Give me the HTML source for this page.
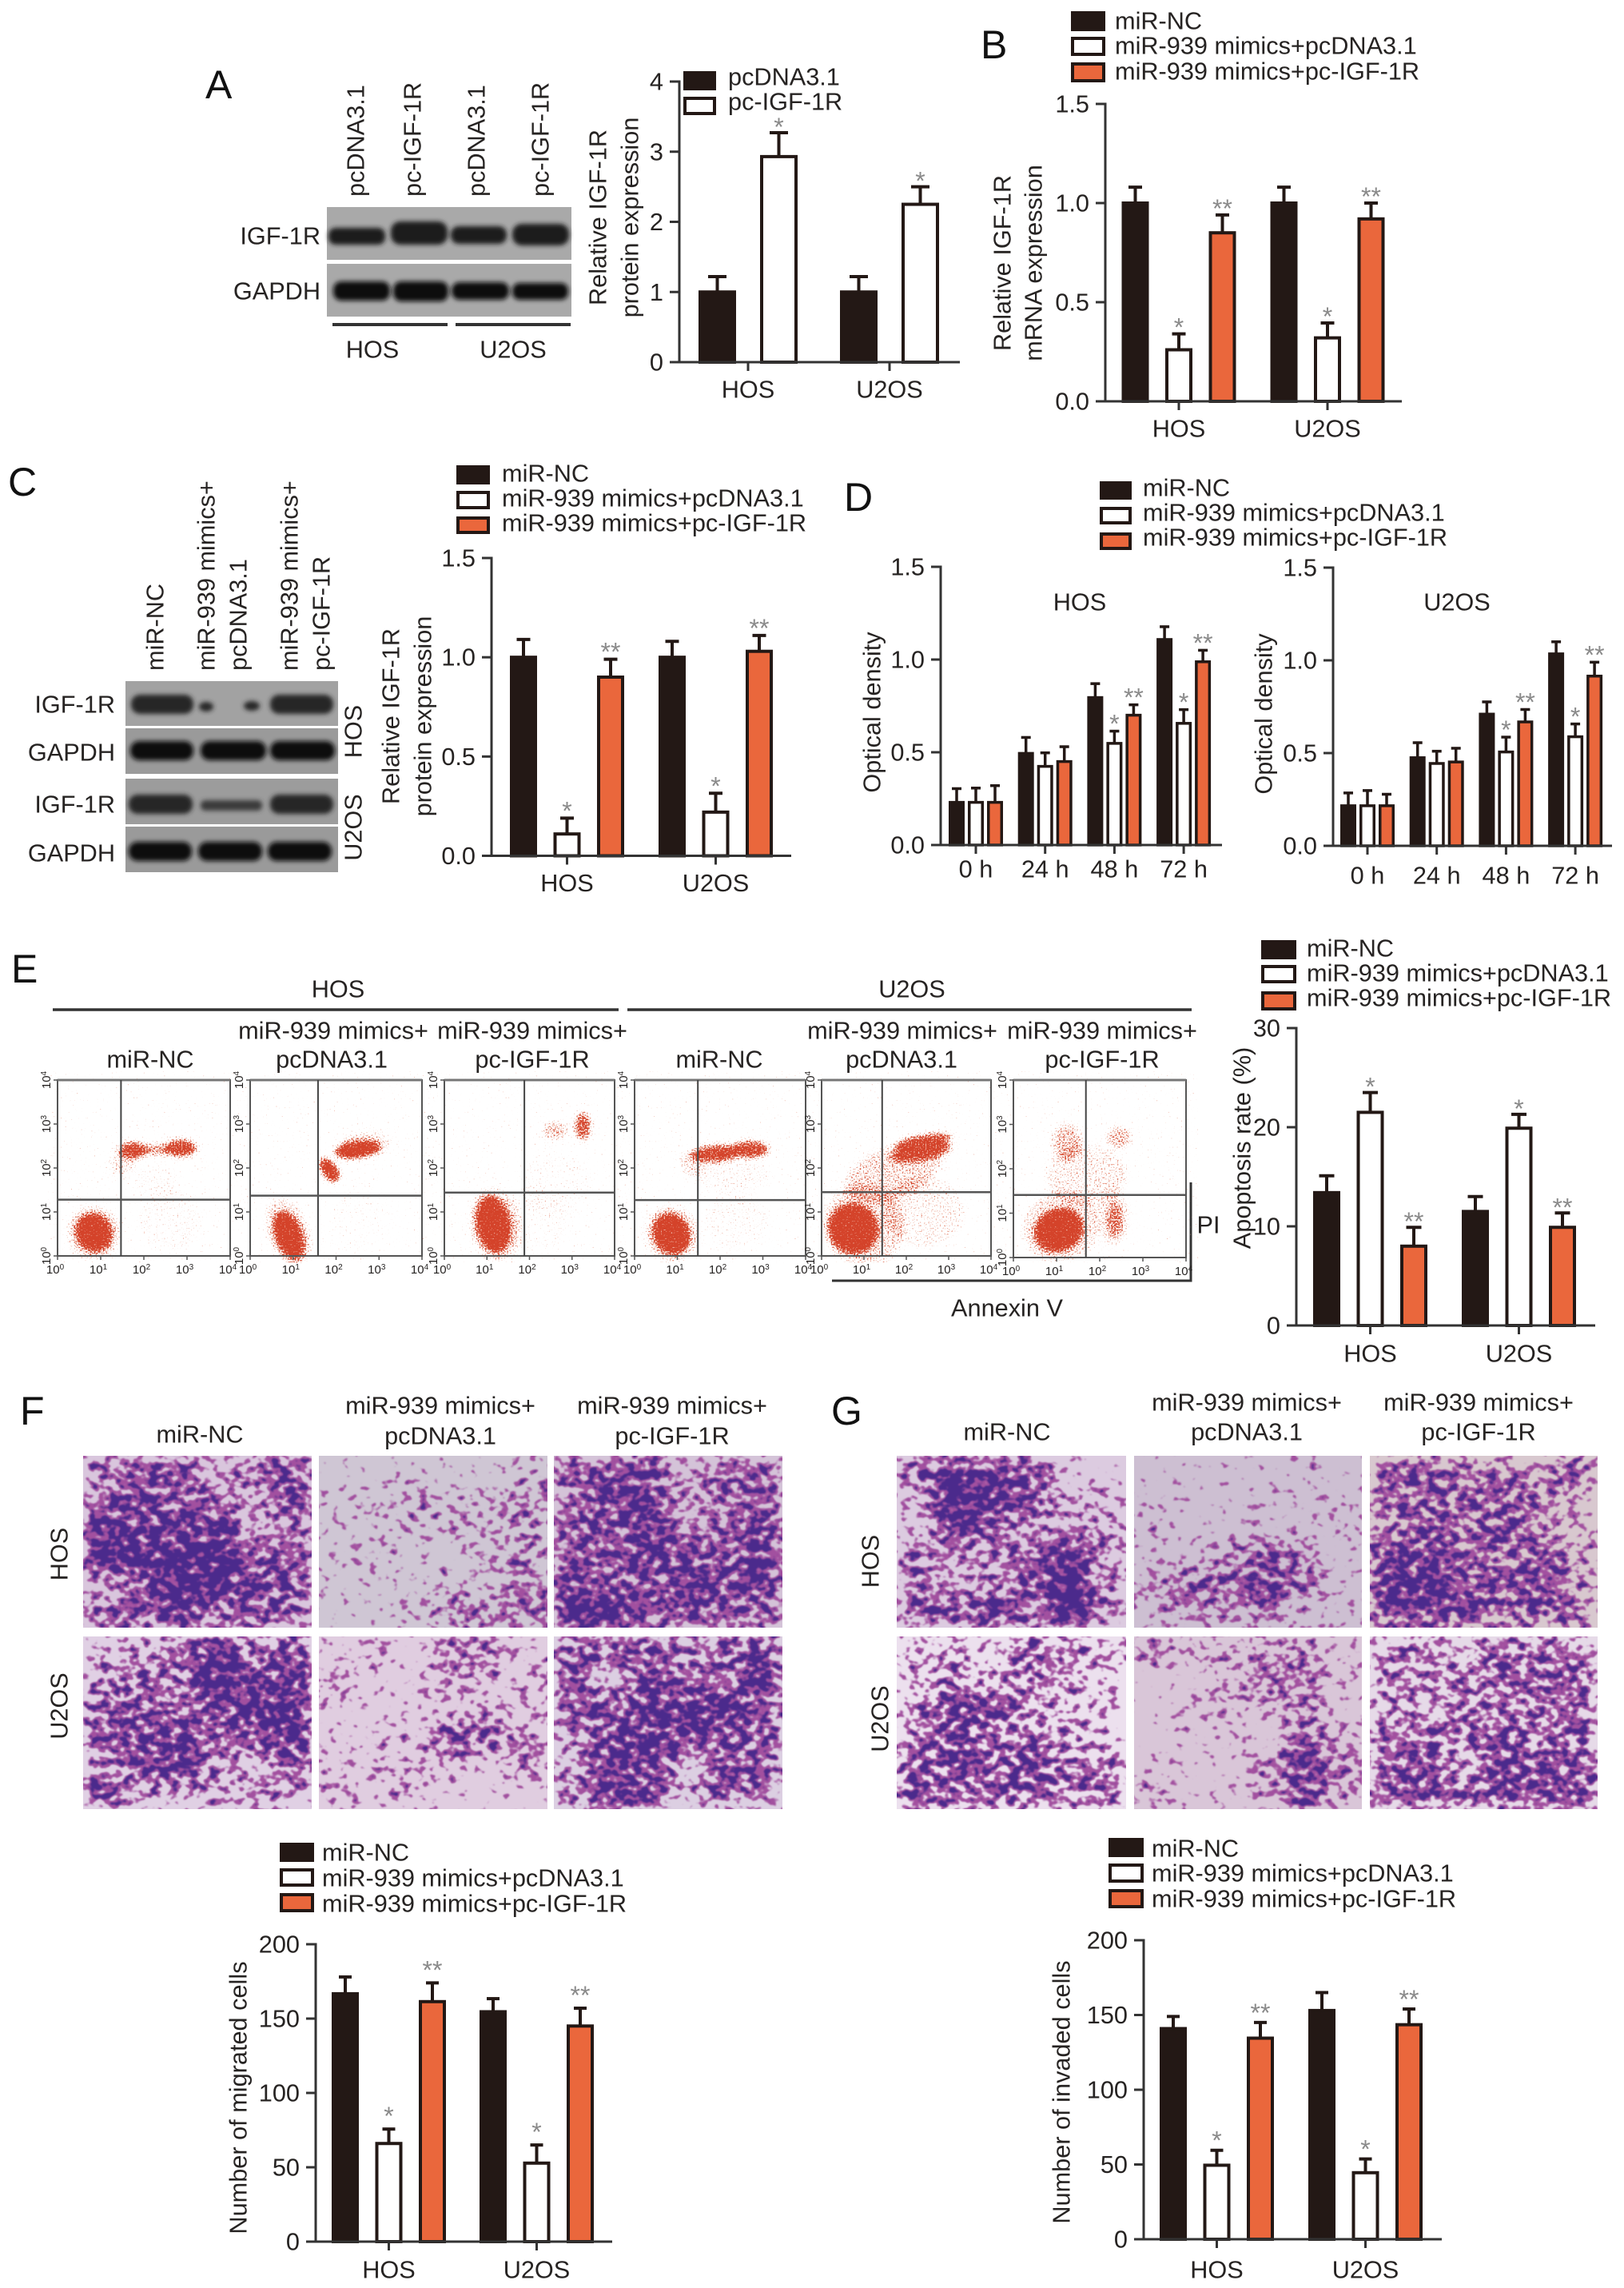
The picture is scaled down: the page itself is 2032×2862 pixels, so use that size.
<!DOCTYPE html>
<html lang="en">
<head>
<meta charset="utf-8">
<title>miR-939 / IGF-1R multi-panel figure</title>
<style>
html,body{margin:0;padding:0;background:#fff}
svg#fig{display:block}
text{font-family:"Liberation Sans",Arial,sans-serif;fill:#262322}
.t{font-size:30.7px;dominant-baseline:central}
.c{text-anchor:middle}
.r{text-anchor:end}
.L{font-size:50px;fill:#111}
</style>
</head>
<body>
<svg id="fig" xmlns="http://www.w3.org/2000/svg" width="2032" height="2862" viewBox="0 0 2032 2862">
<defs>
  <filter id="cells" filterUnits="userSpaceOnUse" x="100" y="1815" width="1905" height="455" color-interpolation-filters="sRGB">
    <feGaussianBlur in="SourceAlpha" stdDeviation="12" result="d"/>
    <feTurbulence type="fractalNoise" baseFrequency="0.08 0.1" numOctaves="2" seed="7" result="n"/>
    <feColorMatrix in="n" type="matrix" values="0 0 0 0 0  0 0 0 0 0  0 0 0 0 0  1 0 0 0 0" result="na"/>
    <feComposite in="d" in2="na" operator="arithmetic" k1="0" k2="0.55" k3="1" k4="0" result="sum"/>
    <feComponentTransfer in="sum" result="lightA"><feFuncA type="linear" slope="12" intercept="-8.7"/></feComponentTransfer>
    <feComponentTransfer in="sum" result="darkA"><feFuncA type="linear" slope="12" intercept="-10.6"/></feComponentTransfer>
    <feFlood flood-color="#a2509f"/><feComposite in2="lightA" operator="in" result="light"/>
    <feFlood flood-color="#4b2a8c"/><feComposite in2="darkA" operator="in" result="dark"/>
    <feMerge result="m"><feMergeNode in="light"/><feMergeNode in="dark"/></feMerge>
    <feGaussianBlur in="m" stdDeviation="0.9"/>
  </filter>
  <filter id="dots" filterUnits="userSpaceOnUse" x="60" y="1340" width="1440" height="240" color-interpolation-filters="sRGB">
    <feGaussianBlur in="SourceAlpha" stdDeviation="4" result="d"/>
    <feTurbulence type="fractalNoise" baseFrequency="0.55" numOctaves="1" seed="11" result="n"/>
    <feColorMatrix in="n" type="matrix" values="0 0 0 0 0  0 0 0 0 0  0 0 0 0 0  1 0 0 0 0" result="na"/>
    <feComposite in="d" in2="na" operator="arithmetic" k1="0" k2="0.6" k3="1" k4="0" result="sum"/>
    <feComponentTransfer in="sum" result="paleA"><feFuncA type="linear" slope="10" intercept="-7.2"/></feComponentTransfer>
    <feComponentTransfer in="sum" result="coreA"><feFuncA type="linear" slope="10" intercept="-8.5"/></feComponentTransfer>
    <feFlood flood-color="#eeb1a0"/><feComposite in2="paleA" operator="in" result="pale"/>
    <feFlood flood-color="#d4432a"/><feComposite in2="coreA" operator="in" result="core"/>
    <feMerge><feMergeNode in="pale"/><feMergeNode in="core"/></feMerge>
  </filter>
  <filter id="soft2"><feGaussianBlur stdDeviation="3"/></filter>
  <clipPath id="cellClip">
    <rect x="104" y="1821" width="286" height="215"/><rect x="399" y="1821" width="286" height="215"/><rect x="693" y="1821" width="286" height="215"/>
    <rect x="104" y="2047" width="286" height="216"/><rect x="399" y="2047" width="286" height="216"/><rect x="693" y="2047" width="286" height="216"/>
    <rect x="1122" y="1821" width="287" height="215"/><rect x="1419" y="1821" width="285" height="215"/><rect x="1714" y="1821" width="285" height="215"/>
    <rect x="1122" y="2047" width="287" height="216"/><rect x="1419" y="2047" width="285" height="216"/><rect x="1714" y="2047" width="285" height="216"/>
  </clipPath>
</defs>

<!-- panel letters -->
<text class="L" x="257" y="123">A</text>
<text class="L" x="1227" y="73">B</text>
<text class="L" x="10" y="620">C</text>
<text class="L" x="1056" y="639">D</text>
<text class="L" x="14" y="1229">E</text>
<text class="L" x="25" y="1782">F</text>
<text class="L" x="1040" y="1782">G</text>

<!-- Panel A western blot -->
<g>
  <rect x="409" y="259" width="306" height="66" fill="#a9a9a9"/>
  <rect x="409" y="330" width="306" height="66" fill="#a9a9a9"/>
  <g filter="url(#soft2)" fill="#1c1c1c">
    <rect x="411" y="285" width="71" height="21" rx="9"/><rect x="489" y="277" width="71" height="29" rx="12"/>
    <rect x="564" y="283" width="70" height="22" rx="10"/><rect x="641" y="280" width="71" height="27" rx="12"/>
    <g fill="#0c0c0c"><rect x="417" y="352" width="71" height="24" rx="10"/><rect x="492" y="352" width="69" height="25" rx="10"/>
    <rect x="565" y="353" width="72" height="22" rx="10"/><rect x="641" y="354" width="70" height="21" rx="9"/></g>
  </g>
  <text class="t r" x="401" y="295">IGF-1R</text>
  <text class="t r" x="401" y="364">GAPDH</text>
  <text class="t" x="445" y="246" transform="rotate(-90 445 246)">pcDNA3.1</text>
  <text class="t" x="516" y="246" transform="rotate(-90 516 246)">pc-IGF-1R</text>
  <text class="t" x="596" y="246" transform="rotate(-90 596 246)">pcDNA3.1</text>
  <text class="t" x="676" y="246" transform="rotate(-90 676 246)">pc-IGF-1R</text>
  <line x1="416" y1="406" x2="560" y2="406" stroke="#333" stroke-width="4"/>
  <line x1="570" y1="406" x2="714" y2="406" stroke="#333" stroke-width="4"/>
  <text class="t c" x="466" y="437">HOS</text>
  <text class="t c" x="642" y="437">U2OS</text>
</g>

<!-- Panel A chart titles / legend -->
<text class="t c" x="748" y="272" transform="rotate(-90 748 272)">Relative IGF-1R</text>
<text class="t c" x="788" y="272" transform="rotate(-90 788 272)">protein expression</text>
<g>
  <rect x="857" y="91" width="37" height="20" fill="#231815" stroke="#231815" stroke-width="4"/>
  <rect x="857" y="123" width="37" height="19" fill="#fff" stroke="#231815" stroke-width="4"/>
  <text class="t" x="911" y="96">pcDNA3.1</text>
  <text class="t" x="911" y="127">pc-IGF-1R</text>
</g>

<!-- Panel B -->
<text class="t c" x="1254" y="329" transform="rotate(-90 1254 329)">Relative IGF-1R</text>
<text class="t c" x="1293" y="329" transform="rotate(-90 1293 329)">mRNA expression</text>
<g>
  <rect x="1342" y="16" width="39" height="21" fill="#231815" stroke="#231815" stroke-width="4"/>
  <rect x="1342" y="48" width="39" height="20" fill="#fff" stroke="#231815" stroke-width="4"/>
  <rect x="1342" y="80" width="39" height="21" fill="#ea673c" stroke="#231815" stroke-width="4"/>
  <text class="t" x="1395" y="26">miR-NC</text>
  <text class="t" x="1395" y="57">miR-939 mimics+pcDNA3.1</text>
  <text class="t" x="1395" y="89">miR-939 mimics+pc-IGF-1R</text>
</g>

<!-- Panel C western blot -->
<g>
  <rect x="157" y="852" width="266" height="56" fill="#a2a2a2"/>
  <rect x="157" y="911" width="266" height="57" fill="#9a9a9a"/>
  <rect x="157" y="974" width="266" height="57" fill="#9c9c9c"/>
  <rect x="157" y="1034" width="266" height="57" fill="#9a9a9a"/>
  <g filter="url(#soft2)" fill="#262626">
    <rect x="164" y="869" width="78" height="24" rx="11"/><rect x="338" y="869" width="79" height="24" rx="11"/>
    <ellipse cx="258" cy="884" rx="9" ry="6"/><ellipse cx="315" cy="883" rx="10" ry="6"/>
    <rect x="161" y="994" width="80" height="24" rx="11"/><rect x="251" y="1001" width="77" height="13" rx="6" fill="#3a3a3a"/><rect x="338" y="994" width="79" height="24" rx="11"/>
    <g fill="#101010">
      <rect x="163" y="927" width="79" height="24" rx="11"/><rect x="251" y="927" width="82" height="24" rx="11"/><rect x="338" y="927" width="81" height="24" rx="11"/>
      <rect x="161" y="1053" width="79" height="24" rx="11"/><rect x="248" y="1053" width="80" height="24" rx="11"/><rect x="335" y="1053" width="80" height="24" rx="11"/>
    </g>
  </g>
  <text class="t r" x="144" y="881">IGF-1R</text>
  <text class="t r" x="144" y="941">GAPDH</text>
  <text class="t r" x="144" y="1006">IGF-1R</text>
  <text class="t r" x="144" y="1067">GAPDH</text>
  <text class="t c" x="442" y="915" transform="rotate(-90 442 915)">HOS</text>
  <text class="t c" x="442" y="1035" transform="rotate(-90 442 1035)">U2OS</text>
  <text class="t" x="194" y="839" transform="rotate(-90 194 839)">miR-NC</text>
  <text class="t" x="258" y="839" transform="rotate(-90 258 839)">miR-939 mimics+</text>
  <text class="t" x="298" y="839" transform="rotate(-90 298 839)">pcDNA3.1</text>
  <text class="t" x="362" y="839" transform="rotate(-90 362 839)">miR-939 mimics+</text>
  <text class="t" x="402" y="839" transform="rotate(-90 402 839)">pc-IGF-1R</text>
</g>
<text class="t c" x="489" y="896" transform="rotate(-90 489 896)">Relative IGF-1R</text>
<text class="t c" x="529" y="896" transform="rotate(-90 529 896)">protein expression</text>
<g>
  <rect x="573" y="584" width="38" height="20" fill="#231815" stroke="#231815" stroke-width="4"/>
  <rect x="573" y="616" width="38" height="19" fill="#fff" stroke="#231815" stroke-width="4"/>
  <rect x="573" y="648" width="38" height="18" fill="#ea673c" stroke="#231815" stroke-width="4"/>
  <text class="t" x="628" y="592">miR-NC</text>
  <text class="t" x="628" y="623">miR-939 mimics+pcDNA3.1</text>
  <text class="t" x="628" y="654">miR-939 mimics+pc-IGF-1R</text>
</g>

<!-- Panel D -->
<g>
  <rect x="1378" y="604" width="36" height="19" fill="#231815" stroke="#231815" stroke-width="4"/>
  <rect x="1378" y="636" width="36" height="18" fill="#fff" stroke="#231815" stroke-width="4"/>
  <rect x="1378" y="668" width="36" height="18" fill="#ea673c" stroke="#231815" stroke-width="4"/>
  <text class="t" x="1430" y="610">miR-NC</text>
  <text class="t" x="1430" y="641">miR-939 mimics+pcDNA3.1</text>
  <text class="t" x="1430" y="672">miR-939 mimics+pc-IGF-1R</text>
</g>
<text class="t c" x="1351" y="753">HOS</text>
<text class="t c" x="1823" y="753">U2OS</text>
<text class="t c" x="1091" y="891" transform="rotate(-90 1091 891)">Optical density</text>
<text class="t c" x="1581" y="893" transform="rotate(-90 1581 893)">Optical density</text>

<!-- Panel E labels -->
<g>
  <text class="t c" x="423" y="1237">HOS</text>
  <text class="t c" x="1141" y="1237">U2OS</text>
  <line x1="66" y1="1263" x2="774" y2="1263" stroke="#333" stroke-width="3.5"/>
  <line x1="785" y1="1263" x2="1491" y2="1263" stroke="#333" stroke-width="3.5"/>
  <text class="t c" x="188" y="1325">miR-NC</text>
  <text class="t c" x="417" y="1289">miR-939 mimics+</text>
  <text class="t c" x="415" y="1325">pcDNA3.1</text>
  <text class="t c" x="666" y="1289">miR-939 mimics+</text>
  <text class="t c" x="666" y="1325">pc-IGF-1R</text>
  <text class="t c" x="900" y="1325">miR-NC</text>
  <text class="t c" x="1129" y="1289">miR-939 mimics+</text>
  <text class="t c" x="1128" y="1325">pcDNA3.1</text>
  <text class="t c" x="1379" y="1289">miR-939 mimics+</text>
  <text class="t c" x="1379" y="1325">pc-IGF-1R</text>
  <polyline points="1490,1479 1490,1602 1041,1602" fill="none" stroke="#333" stroke-width="3"/>
  <text class="t c" x="1512" y="1532">PI</text>
  <text class="t c" x="1260" y="1636">Annexin V</text>
</g>
<g>
  <rect x="1580" y="1178" width="40" height="20" fill="#231815" stroke="#231815" stroke-width="4"/>
  <rect x="1580" y="1209" width="40" height="19" fill="#fff" stroke="#231815" stroke-width="4"/>
  <rect x="1580" y="1242" width="40" height="20" fill="#ea673c" stroke="#231815" stroke-width="4"/>
  <text class="t" x="1635" y="1186">miR-NC</text>
  <text class="t" x="1635" y="1217">miR-939 mimics+pcDNA3.1</text>
  <text class="t" x="1635" y="1248">miR-939 mimics+pc-IGF-1R</text>
</g>
<text class="t c" x="1554" y="1436" transform="rotate(-90 1554 1436)">Apoptosis rate (%)</text>

<!-- Panel F / G image labels -->
<g>
  <text class="t c" x="250" y="1794">miR-NC</text>
  <text class="t c" x="551" y="1758">miR-939 mimics+</text>
  <text class="t c" x="551" y="1796">pcDNA3.1</text>
  <text class="t c" x="841" y="1758">miR-939 mimics+</text>
  <text class="t c" x="841" y="1796">pc-IGF-1R</text>
  <text class="t c" x="74" y="1944" transform="rotate(-90 74 1944)">HOS</text>
  <text class="t c" x="74" y="2134" transform="rotate(-90 74 2134)">U2OS</text>
</g>
<g>
  <text class="t c" x="1260" y="1791">miR-NC</text>
  <text class="t c" x="1560" y="1754">miR-939 mimics+</text>
  <text class="t c" x="1560" y="1791">pcDNA3.1</text>
  <text class="t c" x="1850" y="1754">miR-939 mimics+</text>
  <text class="t c" x="1850" y="1791">pc-IGF-1R</text>
  <text class="t c" x="1089" y="1953" transform="rotate(-90 1089 1953)">HOS</text>
  <text class="t c" x="1101" y="2150" transform="rotate(-90 1101 2150)">U2OS</text>
</g>

<!-- Panel F chart text -->
<g>
  <rect x="352" y="2307" width="39" height="20" fill="#231815" stroke="#231815" stroke-width="4"/>
  <rect x="352" y="2339" width="39" height="19" fill="#fff" stroke="#231815" stroke-width="4"/>
  <rect x="352" y="2370" width="39" height="20" fill="#ea673c" stroke="#231815" stroke-width="4"/>
  <text class="t" x="403" y="2317">miR-NC</text>
  <text class="t" x="403" y="2349">miR-939 mimics+pcDNA3.1</text>
  <text class="t" x="403" y="2381">miR-939 mimics+pc-IGF-1R</text>
</g>
<text class="t c" x="298" y="2624" transform="rotate(-90 298 2624)">Number of migrated cells</text>

<!-- Panel G chart text -->
<g>
  <rect x="1389" y="2301" width="40" height="20" fill="#231815" stroke="#231815" stroke-width="4"/>
  <rect x="1389" y="2333" width="40" height="20" fill="#fff" stroke="#231815" stroke-width="4"/>
  <rect x="1389" y="2365" width="40" height="20" fill="#ea673c" stroke="#231815" stroke-width="4"/>
  <text class="t" x="1441" y="2312">miR-NC</text>
  <text class="t" x="1441" y="2343">miR-939 mimics+pcDNA3.1</text>
  <text class="t" x="1441" y="2375">miR-939 mimics+pc-IGF-1R</text>
</g>
<text class="t c" x="1328" y="2617" transform="rotate(-90 1328 2617)">Number of invaded cells</text>

<g id="cellBase"></g>
<g clip-path="url(#cellClip)"><g id="cellDensity" filter="url(#cells)"></g></g>
<g id="facsDots" filter="url(#dots)"></g>
<g id="facsAxes"></g>
<g id="charts"></g>
</svg>

<script>
/* ===== Chart data ===== */
const groupsCell = ['HOS', 'U2OS'];
const groupsTime = ['0 h', '24 h', '48 h', '72 h'];

/* Panel A */
const panelA_yTicks = ['0', '1', '2', '3', '4'];
const panelA_pcDNA = [1.0, 1.0];
const panelA_pcDNA_err = [0.22, 0.22];
const panelA_pcIGF = [2.93, 2.25];
const panelA_pcIGF_err = [0.34, 0.25];
const panelA_pcIGF_sig = ['*', '*'];

/* Panel B */
const panelB_yTicks = ['0.0', '0.5', '1.0', '1.5'];
const panelB_nc = [1.0, 1.0];
const panelB_nc_err = [0.08, 0.08];
const panelB_mimics = [0.26, 0.32];
const panelB_mimics_err = [0.08, 0.075];
const panelB_mimics_sig = ['*', '*'];
const panelB_rescue = [0.85, 0.92];
const panelB_rescue_err = [0.09, 0.08];
const panelB_rescue_sig = ['**', '**'];

/* Panel C */
const panelC_yTicks = ['0.0', '0.5', '1.0', '1.5'];
const panelC_nc = [1.0, 1.0];
const panelC_nc_err = [0.09, 0.08];
const panelC_mimics = [0.11, 0.22];
const panelC_mimics_err = [0.08, 0.095];
const panelC_mimics_sig = ['*', '*'];
const panelC_rescue = [0.90, 1.03];
const panelC_rescue_err = [0.09, 0.08];
const panelC_rescue_sig = ['**', '**'];

/* Panel D HOS */
const panelD_yTicks = ['0.0', '0.5', '1.0', '1.5'];
const panelD_hos_nc = [0.23, 0.494, 0.795, 1.108];
const panelD_hos_nc_err = [0.074, 0.086, 0.075, 0.069];
const panelD_hos_mimics = [0.23, 0.424, 0.548, 0.656];
const panelD_hos_mimics_err = [0.077, 0.073, 0.066, 0.074];
const panelD_hos_mimics_sig = ['', '', '*', '*'];
const panelD_hos_rescue = [0.23, 0.45, 0.70, 0.988];
const panelD_hos_rescue_err = [0.09, 0.08, 0.056, 0.062];
const panelD_hos_rescue_sig = ['', '', '**', '**'];

/* Panel D U2OS */
const panelD_u2os_nc = [0.216, 0.475, 0.71, 1.035];
const panelD_u2os_nc_err = [0.069, 0.081, 0.066, 0.065];
const panelD_u2os_mimics = [0.216, 0.444, 0.506, 0.588];
const panelD_u2os_mimics_err = [0.082, 0.066, 0.08, 0.069];
const panelD_u2os_mimics_sig = ['', '', '*', '*'];
const panelD_u2os_rescue = [0.216, 0.452, 0.668, 0.915];
const panelD_u2os_rescue_err = [0.062, 0.074, 0.067, 0.075];
const panelD_u2os_rescue_sig = ['', '', '**', '**'];

/* Panel E */
const panelE_yTicks = ['0', '10', '20', '30'];
const panelE_nc = [13.4, 11.5];
const panelE_nc_err = [1.7, 1.5];
const panelE_mimics = [21.5, 19.9];
const panelE_mimics_err = [2.0, 1.4];
const panelE_mimics_sig = ['*', '*'];
const panelE_rescue = [8.0, 9.9];
const panelE_rescue_err = [1.9, 1.45];
const panelE_rescue_sig = ['**', '**'];

/* Panel F */
const panelF_yTicks = ['0', '50', '100', '150', '200'];
const panelF_nc = [166.7, 154.6];
const panelF_nc_err = [11.3, 8.8];
const panelF_mimics = [66, 52.8];
const panelF_mimics_err = [9.7, 12.2];
const panelF_mimics_sig = ['*', '*'];
const panelF_rescue = [161.4, 145];
const panelF_rescue_err = [12.6, 12];
const panelF_rescue_sig = ['**', '**'];

/* Panel G */
const panelG_yTicks = ['0', '50', '100', '150', '200'];
const panelG_nc = [140.9, 153];
const panelG_nc_err = [8.1, 12];
const panelG_mimics = [49.5, 44.5];
const panelG_mimics_err = [10, 9.2];
const panelG_mimics_sig = ['*', '*'];
const panelG_rescue = [134.5, 143.5];
const panelG_rescue_err = [10.5, 10.5];
const panelG_rescue_sig = ['**', '**'];

/* Flow-cytometry event clusters: [log10 AnnexinV, log10 PI, spread x, spread y, tilt deg, density] */
const facsExponents = ['0', '1', '2', '3', '4'];
const facs_hos_nc = [[0.84,0.53,0.42,0.45,-30,1],[0.84,0.53,0.62,0.62,-30,0.3],[1.75,2.4,0.35,0.2,0,0.85],[2.3,2.42,0.3,0.15,0,0.55],[2.85,2.45,0.38,0.2,0,0.9],[1.5,2.1,0.3,0.3,0,0.25],[2.6,0.8,0.7,0.7,0,0.1],[2.3,1.7,0.55,0.35,0,0.1]];
const facs_hos_mimics = [[0.9,0.46,0.32,0.58,-20,1],[0.9,0.55,0.48,0.8,-20,0.3],[2.5,2.42,0.55,0.2,-8,1],[1.85,1.95,0.18,0.32,-35,1],[2.7,2.55,0.6,0.3,0,0.25],[2.6,0.9,0.7,0.7,0,0.05]];
const facs_hos_rescue = [[1.15,0.72,0.4,0.65,-10,1],[1.2,0.7,0.6,0.85,-10,0.32],[3.25,2.95,0.2,0.32,0,0.75],[2.6,2.85,0.3,0.2,0,0.42],[2.6,1.6,0.85,0.7,0,0.08],[2.1,0.8,0.8,0.7,0,0.08]];
const facs_u2os_nc = [[0.86,0.5,0.42,0.48,-25,1],[0.86,0.5,0.62,0.65,-25,0.32],[1.9,2.33,0.6,0.2,-4,0.85],[2.7,2.42,0.45,0.2,0,0.85],[1.35,2.1,0.3,0.3,0,0.3],[2.3,1.8,0.9,0.4,0,0.12],[2.4,0.8,0.75,0.6,0,0.1]];
const facs_u2os_mimics = [[0.75,0.62,0.58,0.58,-35,1],[1.0,0.7,0.95,0.95,-35,0.32],[2.35,2.35,0.75,0.18,-10,0.85],[2.4,2.6,0.7,0.16,-10,0.85],[1.7,1.9,1.2,0.6,-20,0.34],[2.4,1.0,0.95,0.8,0,0.2]];
const facs_u2os_rescue = [[1.05,0.62,0.58,0.48,-25,1],[1.1,0.7,0.9,0.8,-25,0.3],[1.25,2.6,0.35,0.42,0,0.42],[2.45,2.7,0.3,0.25,0,0.42],[1.7,1.85,0.95,0.7,0,0.25],[2.35,0.85,0.2,0.42,0,0.55],[2.3,0.9,0.4,0.65,0,0.22]];

/* Microscopy staining density (6x6 grid, 0-9) */
const stainF = [
 ['566367','576537','877835','988966','369876','668566'],
 ['112113','133334','213334','231134','111325','113555'],
 ['677366','577456','668457','667768','766777','996766'],
 ['335857','465977','665688','677668','468436','743444'],
 ['131552','412423','112232','222764','233315','323111'],
 ['666567','637558','667886','478766','477366','587365']
];
const stainG = [
 ['687721','398633','376444','544684','544694','668595'],
 ['011020','211221','211213','214641','466761','343512'],
 ['665546','565653','565743','776564','886674','777565'],
 ['433644','353542','477433','575542','666755','766655'],
 ['533442','003552','033341','022163','210575','412373'],
 ['453655','545566','435555','565656','663766','676777']
];

/* ===== Drawing helpers ===== */
const NS = 'http://www.w3.org/2000/svg';
const INK = '#231815';
const AXIS = '#333333';
const ORANGE = '#ea673c';
function mk(tag, attrs, parent) {
  const el = document.createElementNS(NS, tag);
  for (const k in attrs) el.setAttribute(k, attrs[k]);
  parent.appendChild(el);
  return el;
}

/* ===== Bar charts ===== */
function drawBarChart(cfg) {
  const g = mk('g', {}, document.getElementById('charts'));
  
  
  const yMax = parseFloat(cfg.yTicks[cfg.yTicks.length - 1]);
  const y = v => cfg.y0 - (v / yMax) * (cfg.y0 - cfg.yTop);
  const x = i => cfg.firstTick + i * cfg.tickStep;
  const sw = cfg.stroke || 4;
  const n = cfg.series.length;

  cfg.series.forEach((s, si) => {
    s.values.forEach((v, i) => {
      const cx = x(i) + (si - (n - 1) / 2) * cfg.barStep;
      const top = y(v + s.err[i]);
      const stem = mk('line', {x1: cx, x2: cx, y1: y(v), y2: top, stroke: INK, 'stroke-width': sw}, g);
      
      
      const cap = mk('line', {x1: cx - cfg.capW / 2, x2: cx + cfg.capW / 2, y1: top, y2: top, stroke: INK, 'stroke-width': sw}, g);
      
      
      const bar = mk('rect', {x: cx - cfg.barW / 2 + sw / 2, y: y(v), width: cfg.barW - sw, height: Math.max(0, cfg.y0 - y(v)), fill: s.fill, stroke: INK, 'stroke-width': sw}, g);
      
      
      if (s.sig && s.sig[i]) {
        const star = mk('text', {x: cx, y: top - cfg.starOffset + 18, 'text-anchor': 'middle', 'font-size': 32, style: 'fill:#8a8a8a'}, g);
        star.textContent = s.sig[i];
        
        
      }
    });
  });

  const yAxis = mk('line', {x1: cfg.axisX, x2: cfg.axisX, y1: cfg.yTop - 1.5, y2: cfg.y0, stroke: AXIS, 'stroke-width': 3}, g);
  
  
  const xAxis = mk('line', {x1: cfg.axisX - 12, x2: cfg.xEnd, y1: cfg.y0, y2: cfg.y0, stroke: AXIS, 'stroke-width': 3}, g);
  
  

  cfg.yTicks.forEach(lbl => {
    const ty = y(parseFloat(lbl));
    const tick = mk('line', {x1: cfg.axisX - 12, x2: cfg.axisX, y1: ty, y2: ty, stroke: AXIS, 'stroke-width': 3}, g);
    
    
    const t = mk('text', {class: 't r', x: cfg.axisX - 20, y: ty}, g);
    t.textContent = lbl;
    
    
  });
  cfg.groups.forEach((lbl, i) => {
    const tick = mk('line', {x1: x(i), x2: x(i), y1: cfg.y0, y2: cfg.y0 + 11, stroke: AXIS, 'stroke-width': 3}, g);
    
    
    const t = mk('text', {class: 't c', x: x(i) + (cfg.labelShift || 0), y: cfg.y0 + cfg.xLabelDy}, g);
    t.textContent = lbl;
    
    
  });
}

function threeSeries(nc, ncErr, mim, mimErr, mimSig, res, resErr, resSig) {
  return [
    {key: 'mir-nc', fill: INK, values: nc, err: ncErr},
    {key: 'mimics-pcdna', fill: '#ffffff', values: mim, err: mimErr, sig: mimSig},
    {key: 'mimics-pc-igf1r', fill: ORANGE, values: res, err: resErr, sig: resSig}
  ];
}

drawBarChart({name: 'panel-a', groups: groupsCell, yTicks: panelA_yTicks, axisX: 850, xEnd: 1201, y0: 453, yTop: 102,
  firstTick: 936, tickStep: 177, barStep: 77, barW: 47, capW: 23, starOffset: 14, xLabelDy: 34,
  series: [
    {key: 'pcdna', fill: INK, values: panelA_pcDNA, err: panelA_pcDNA_err},
    {key: 'pc-igf1r', fill: '#ffffff', values: panelA_pcIGF, err: panelA_pcIGF_err, sig: panelA_pcIGF_sig}
  ]});
drawBarChart({name: 'panel-b', groups: groupsCell, yTicks: panelB_yTicks, axisX: 1383, xEnd: 1754, y0: 502, yTop: 130,
  firstTick: 1475, tickStep: 186, barStep: 54.5, barW: 34, capW: 17, starOffset: 15, xLabelDy: 34,
  series: threeSeries(panelB_nc, panelB_nc_err, panelB_mimics, panelB_mimics_err, panelB_mimics_sig, panelB_rescue, panelB_rescue_err, panelB_rescue_sig)});
drawBarChart({name: 'panel-c', groups: groupsCell, yTicks: panelC_yTicks, axisX: 615, xEnd: 990, y0: 1070.5, yTop: 698,
  firstTick: 709.5, tickStep: 186, barStep: 54.5, barW: 34, capW: 17, starOffset: 16, xLabelDy: 34,
  series: threeSeries(panelC_nc, panelC_nc_err, panelC_mimics, panelC_mimics_err, panelC_mimics_sig, panelC_rescue, panelC_rescue_err, panelC_rescue_sig)});
drawBarChart({name: 'panel-d-hos', groups: groupsTime, yTicks: panelD_yTicks, axisX: 1177, xEnd: 1529, y0: 1057, yTop: 709,
  firstTick: 1221, tickStep: 86.7, barStep: 24, barW: 20, capW: 12, stroke: 3.5, starOffset: 16, xLabelDy: 30,
  series: threeSeries(panelD_hos_nc, panelD_hos_nc_err, panelD_hos_mimics, panelD_hos_mimics_err, panelD_hos_mimics_sig, panelD_hos_rescue, panelD_hos_rescue_err, panelD_hos_rescue_sig)});
drawBarChart({name: 'panel-d-u2os', groups: groupsTime, yTicks: panelD_yTicks, axisX: 1668, xEnd: 2017, y0: 1058, yTop: 710,
  firstTick: 1711, tickStep: 86.7, barStep: 24, barW: 20, capW: 12, stroke: 3.5, starOffset: 16, xLabelDy: 37,
  series: threeSeries(panelD_u2os_nc, panelD_u2os_nc_err, panelD_u2os_mimics, panelD_u2os_mimics_err, panelD_u2os_mimics_sig, panelD_u2os_rescue, panelD_u2os_rescue_err, panelD_u2os_rescue_sig)});
drawBarChart({name: 'panel-e', groups: groupsCell, yTicks: panelE_yTicks, axisX: 1622, xEnd: 1996, y0: 1658, yTop: 1286,
  firstTick: 1714.5, tickStep: 186, barStep: 54.5, barW: 34, capW: 19, starOffset: 14, xLabelDy: 35,
  series: threeSeries(panelE_nc, panelE_nc_err, panelE_mimics, panelE_mimics_err, panelE_mimics_sig, panelE_rescue, panelE_rescue_err, panelE_rescue_sig)});
drawBarChart({name: 'panel-f', groups: groupsCell, yTicks: panelF_yTicks, axisX: 395, xEnd: 766, y0: 2804, yTop: 2432,
  firstTick: 486.5, tickStep: 185, barStep: 54.5, barW: 34, capW: 16, starOffset: 23, xLabelDy: 35,
  series: threeSeries(panelF_nc, panelF_nc_err, panelF_mimics, panelF_mimics_err, panelF_mimics_sig, panelF_rescue, panelF_rescue_err, panelF_rescue_sig)});
drawBarChart({name: 'panel-g', groups: groupsCell, yTicks: panelG_yTicks, axisX: 1431, xEnd: 1804, y0: 2801, yTop: 2427,
  firstTick: 1522.5, tickStep: 186, barStep: 54.5, barW: 34, capW: 16, starOffset: 19, xLabelDy: 38,
  series: threeSeries(panelG_nc, panelG_nc_err, panelG_mimics, panelG_mimics_err, panelG_mimics_sig, panelG_rescue, panelG_rescue_err, panelG_rescue_sig)});

/* ===== Flow-cytometry dot plots ===== */
function drawFacs(name, left, right, top, bottom, vLog, hLog, clusters) {
  const X = v => left + (v / 4) * (right - left);
  const Y = v => bottom - (v / 4) * (bottom - top);
  const dw = (right - left) / 4, dh = (bottom - top) / 4;
  const dots = document.getElementById('facsDots');
  clusters.forEach(c => {
    const blob = mk('ellipse', {cx: X(c[0]), cy: Y(c[1]), rx: c[2] * dw, ry: c[3] * dh, 'fill-opacity': c[5], transform: 'rotate(' + c[4] + ' ' + X(c[0]) + ' ' + Y(c[1]) + ')'}, dots);
    
    
  });
  const g = mk('g', {}, document.getElementById('facsAxes'));
  
  
  const frame = mk('rect', {x: left, y: top, width: right - left, height: bottom - top, fill: 'none', stroke: '#555', 'stroke-width': 2}, g);
  
  
  const topEdge = mk('line', {x1: left, x2: right, y1: top, y2: top, stroke: '#777', 'stroke-width': 3}, g);
  
  
  const vq = mk('line', {x1: X(vLog), x2: X(vLog), y1: top, y2: bottom, stroke: '#444', 'stroke-width': 2}, g);
  
  
  const hq = mk('line', {x1: left, x2: right, y1: Y(hLog), y2: Y(hLog), stroke: '#555', 'stroke-width': 2.5}, g);
  
  
  facsExponents.forEach((e, i) => {
    const tx = mk('line', {x1: X(i), x2: X(i), y1: bottom, y2: bottom + 5, stroke: '#555', 'stroke-width': 1.5}, g);
    
    
    const ty = mk('line', {x1: left - 5, x2: left, y1: Y(i), y2: Y(i), stroke: '#555', 'stroke-width': 1.5}, g);
    
    
    const lx = mk('text', {x: X(i) - 3, y: bottom + 22, 'text-anchor': 'middle', 'font-size': 15}, g);
    lx.textContent = '10';
    
    
    const sx = mk('tspan', {dy: -5, 'font-size': 10}, lx);
    sx.textContent = e;
    const ly = mk('text', {x: left - 9, y: Y(i), 'text-anchor': 'middle', 'font-size': 15, transform: 'rotate(-90 ' + (left - 9) + ' ' + Y(i) + ')'}, g);
    ly.textContent = '10';
    
    
    const sy = mk('tspan', {dy: -5, 'font-size': 10}, ly);
    sy.textContent = e;
  });
}
drawFacs('flow-plot-hos-mir-nc', 72, 288, 1351, 1571, 1.47, 1.28, facs_hos_nc);
drawFacs('flow-plot-hos-mimics-pcdna', 313, 528, 1351, 1571, 1.58, 1.37, facs_hos_mimics);
drawFacs('flow-plot-hos-mimics-pc-igf1r', 556, 769, 1351, 1571, 1.88, 1.44, facs_hos_rescue);
drawFacs('flow-plot-u2os-mir-nc', 794, 1008, 1351, 1571, 1.48, 1.27, facs_u2os_nc);
drawFacs('flow-plot-u2os-mimics-pcdna', 1028, 1240, 1351, 1571, 1.43, 1.45, facs_u2os_mimics);
drawFacs('flow-plot-u2os-mimics-pc-igf1r', 1268, 1484, 1351, 1573, 1.68, 1.41, facs_u2os_rescue);

/* ===== Microscopy images ===== */
function drawStain(grid, cols, rows, tints, prefix) {
  const base = document.getElementById('cellBase');
  const dens = document.getElementById('cellDensity');
  rows.forEach((r, ri) => {
    cols.forEach((c, ci) => {
      const bg = mk('rect', {x: c[0], y: r[0], width: c[1] - c[0], height: r[1] - r[0], fill: tints[ri * 3 + ci]}, base);
      
      
      const cw = (c[1] - c[0]) / 6, ch = (r[1] - r[0]) / 6;
      grid[ri * 3 + ci].forEach((rowStr, gy) => {
        rowStr.split('').forEach((d, gx) => {
          const patch = mk('rect', {x: c[0] + gx * cw, y: r[0] + gy * ch, width: cw + 0.5, height: ch + 0.5, 'fill-opacity': (+d) / 9}, dens);
          
          
        });
      });
    });
  });
}
function splitGrid(panels) {
  return panels.map(p => p.join('').match(/.{6}/g));
}
drawStain(splitGrid(stainF.map(p => p)), [[104, 390], [399, 685], [693, 979]], [[1821, 2036], [2047, 2263]],
  ['#d9c6dd', '#cfc6d4', '#d4c3d8', '#e0d0e4', '#e0cde0', '#dccfe2'], 'panel-f');
drawStain(splitGrid(stainG.map(p => p)), [[1122, 1409], [1419, 1704], [1714, 1999]], [[1821, 2036], [2047, 2263]],
  ['#dccbe0', '#cdbfd2', '#d8c8cf', '#ece0ee', '#d9c6d8', '#e6dae8'], 'panel-g');
</script>
</body>
</html>
